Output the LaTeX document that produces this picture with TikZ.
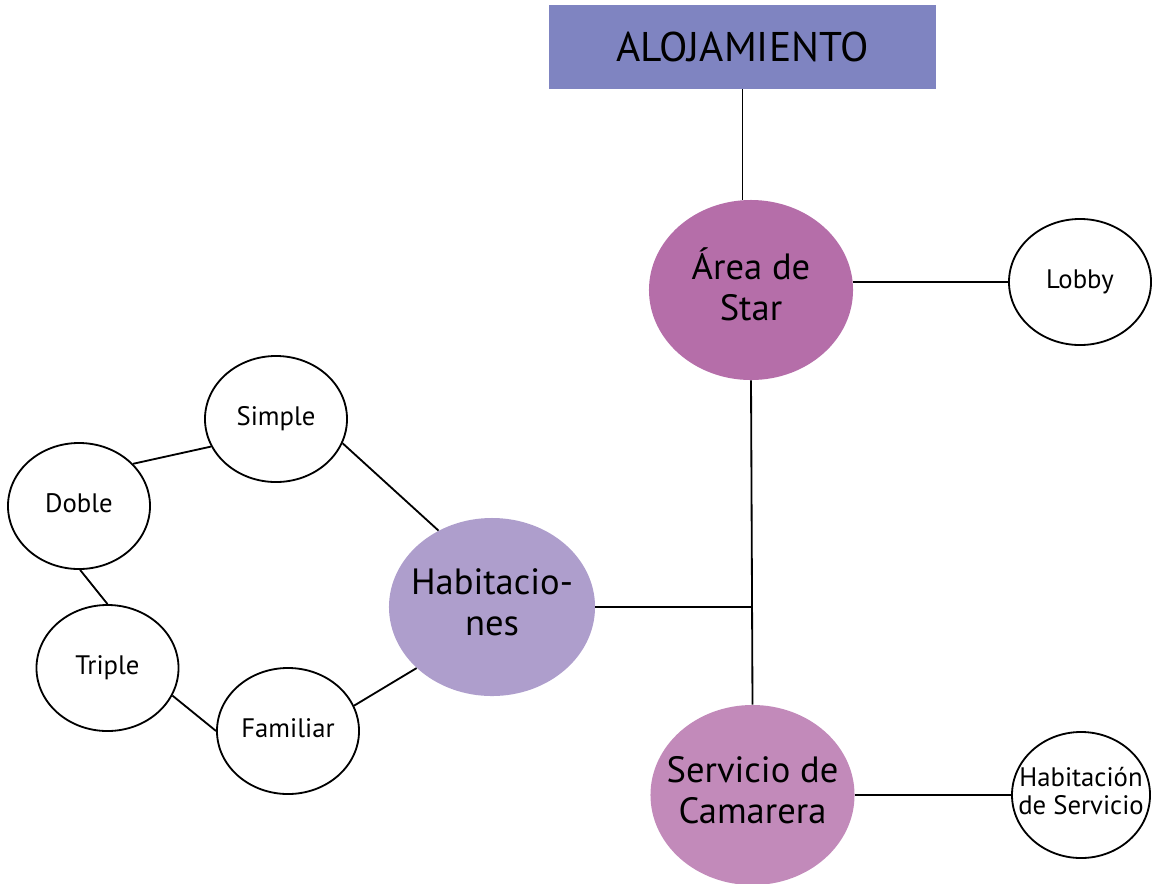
\documentclass[tikz,border=0pt]{standalone}
\usepackage{fontspec}
\setmainfont{PT Sans}
\usepackage{xcolor}
\usetikzlibrary{shapes.geometric,positioning}

\definecolor{titleblue}{HTML}{7F84C1}
\definecolor{areapurple}{HTML}{B56EA9}
\definecolor{habpurple}{HTML}{AE9ECC}
\definecolor{servpink}{HTML}{C28ABA}

% text box of zero width, so the ellipse keeps its own size
\newcommand{\intext}[1]{\makebox[0pt]{\begin{tabular}{@{}c@{}}#1\end{tabular}}}

\tikzset{
  bigbubble/.style={ellipse, draw=none, inner sep=0pt,
    minimum width=5.1cm, minimum height=4.5cm,
    font=\fontsize{26}{29}\selectfont},
  smallbubble/.style={ellipse, draw=black, line width=1.3pt, fill=white,
    inner sep=0pt, minimum width=3.55cm, minimum height=3.15cm,
    font=\fontsize{19}{22}\selectfont},
  link/.style={line width=1.3pt, black}
}

\begin{document}
\begin{tikzpicture}[x=0.025cm, y=-0.025cm]
  \useasboundingbox (0,0) rectangle (1155,883);

  % Title
  \node[rectangle, fill=titleblue, minimum width=9.675cm, minimum height=2.1cm,
    inner sep=0pt, font=\fontsize{29.5}{32}\selectfont] (title) at (742.5,47)
    {ALOJAMIENTO};

  % Main branches
  \node[bigbubble, fill=areapurple] (area) at (751,290) {\intext{Área de\\Star}};
  \node[bigbubble, fill=habpurple, minimum width=5.15cm, minimum height=4.45cm]
    (hab) at (492,607) {\intext{Habitacio-\\nes}};
  \node[bigbubble, fill=servpink, minimum width=5.1cm] (serv) at (752.5,795)
    {\intext{Servicio de\\Camarera}};

  % Leaves
  \node[smallbubble] (lobby) at (1080,282) {\intext{Lobby}};
  \node[smallbubble, minimum width=3.45cm, font=\fontsize{19}{20}\selectfont]
    (habserv) at (1081,795) {\intext{Habitación\\de Servicio}};
  \node[smallbubble] (simple) at (276,419) {\intext{Simple}};
  \node[smallbubble] (doble) at (79,506) {\intext{Doble}};
  \node[smallbubble] (triple) at (107.5,668) {\intext{Triple}};
  \node[smallbubble] (familiar) at (288,731) {\intext{Familiar}};

  % Connectors
  \coordinate (junc) at (area.south |- hab.east);
  \draw[link] (title.south) -- (title.south |- area.north);
  \draw[link] (area.south) -- (serv.north);
  \draw[link] (hab.east) -- (junc);
  \draw[link] (lobby.west -| area.east) -- (lobby.west);
  \draw[link] (serv.east) -- (habserv.west);
  \draw[link] (simple.340) -- (hab.125);
  \draw[link] (simple.203) -- (doble.38);
  \draw[link] (doble.271) -- (triple.90);
  \draw[link] (triple.337) -- (familiar.180);
  \draw[link] (familiar.21) -- (hab.219);
\end{tikzpicture}
\end{document}
